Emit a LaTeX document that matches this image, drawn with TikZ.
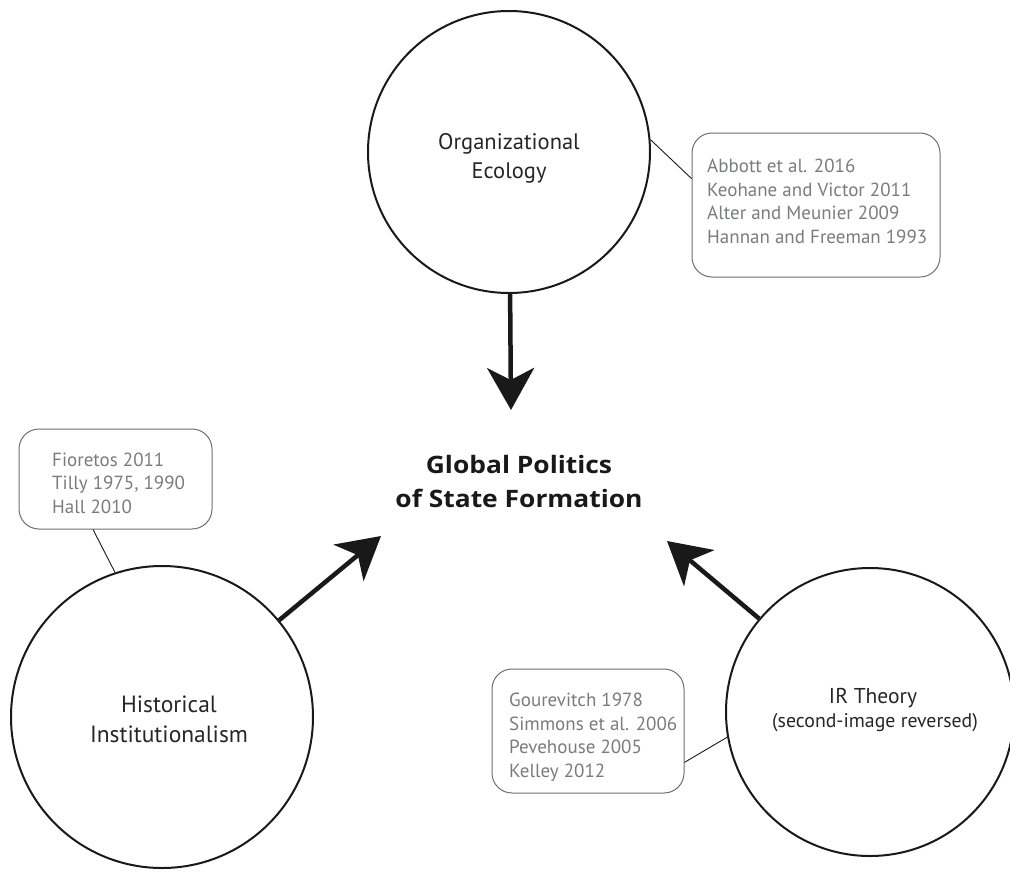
\documentclass[tikz,border=0pt]{standalone}
\usepackage{fontspec}
\setmainfont{PT Sans}
\newfontfamily\titlefont[FakeStretch=1.1]{Open Sans}
\usetikzlibrary{arrows.meta,calc}
\definecolor{reftextgray}{HTML}{7A7B7E}
\definecolor{refboxgray}{HTML}{6D6E71}
\tikzset{
  circ/.style={circle, draw=black!90, line width=2pt, inner sep=0pt},
  refbox/.style={draw=refboxgray, line width=1pt, rounded corners=20pt, inner sep=0pt},
  reftext/.style={text=reftextgray, font=\fontsize{19}{23.5}\selectfont, align=left, inner sep=0pt, anchor=base west},
  circlabel/.style={text=black!85, font=\fontsize{22.5}{29}\selectfont, align=center, inner sep=0pt, anchor=base},
  bigarrow/.style={line width=4.5pt, black!90, -{Stealth[length=42pt,width=47pt,inset=12pt]}},
  conn/.style={line width=0.9pt, black!90}
}
\begin{document}
\begin{tikzpicture}[x=1pt,y=-1pt]
\useasboundingbox (0,0) rectangle (1010,871);
% circles
\node[circ, minimum size=282pt] (oe) at (509,152) {};
\node[circ, minimum size=302pt] (hi) at (162,717) {};
\node[circ, minimum size=288pt] (ir) at (870,712) {};
% circle labels (base = last line)
\node[circlabel] (oelab) at (509,178.3) {Organizational\\Ecology};
\node[circlabel, font=\fontsize{23.5}{30}\selectfont] (hilab) at (169,742) {Historical\\Institutionalism};
\node[circlabel, font=\fontsize{21.5}{29}\selectfont] (irlab) at (873,703) {IR Theory};
\node[circlabel, font=\fontsize{19.8}{22}\selectfont] (irsub) at (875,727) {(second-image reversed)};
% centre
\node[font=\titlefont\bfseries\fontsize{24}{34}\selectfont, align=center, inner sep=0pt, anchor=base, text=black!90] (gp) at (519,507) {Global Politics\\of State Formation};
% reference boxes
\node[refbox, minimum width=248pt, minimum height=144pt] (obox) at (816,205) {};
\node[reftext] (otext) at (707,243) {Abbott et al. 2016\\Keohane and Victor 2011\\Alter and Meunier 2009\\Hannan and Freeman 1993};
\node[refbox, minimum width=193pt, minimum height=100pt] (hbox) at (115.5,479) {};
\node[reftext] (htext) at (52,513) {Fioretos 2011\\Tilly 1975, 1990\\Hall 2010};
\node[refbox, minimum width=192pt, minimum height=124pt] (ibox) at (588,731) {};
\node[reftext] (itext) at (509,777) {Gourevitch 1978\\Simmons et al. 2006\\Pevehouse 2005\\Kelley 2012};
% connectors
\draw[conn] (oe.5) -- (obox.168);
\draw[conn] (hbox.246) -- (hi.108);
\draw[conn] (ibox.-18.4) -- (ir.190.4);
% arrows
\coordinate (tipT) at (511,410);
\coordinate (tipL) at (381,536);
\coordinate (tipR) at (667,541);
\draw[bigarrow] (oe) -- (tipT);
\draw[bigarrow] (hi) -- (tipL);
\draw[bigarrow] (ir) -- (tipR);
\end{tikzpicture}
\end{document}
